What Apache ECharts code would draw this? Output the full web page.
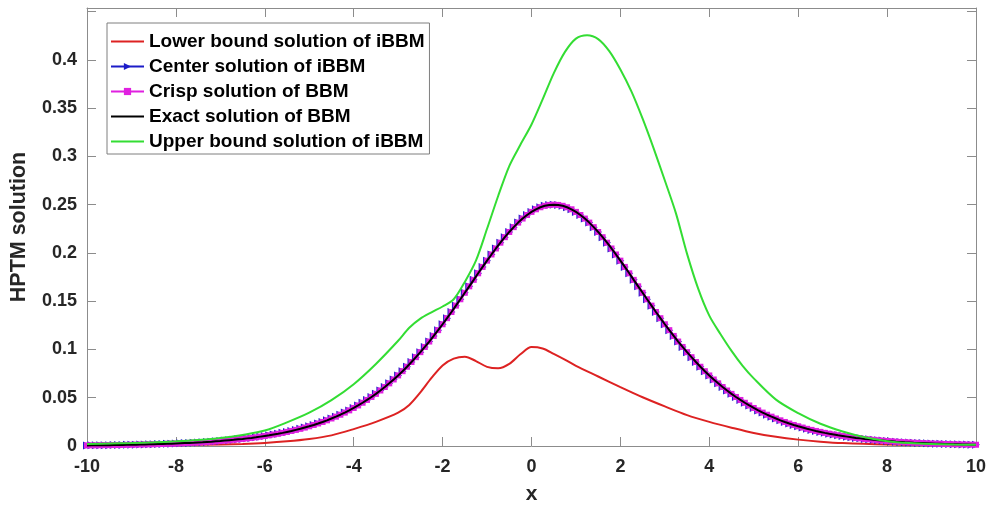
<!DOCTYPE html>
<html>
<head>
<meta charset="utf-8">
<script src="https://cdn.jsdelivr.net/npm/echarts@6/dist/echarts.min.js"></script>
<style>
  html, body { margin: 0; padding: 0; background: #fff; }
  #chart { width: 989px; height: 510px; }
</style>
</head>
<body>
<div id="chart"></div>
<script>
// Sample grid shared by the BBM curves: x = -10 .. 10, step 0.1
const gridStart = -10;
const gridStep = 0.1;

// BBM solitary wave (center / crisp / exact coincide), one value per grid point
const bbmValues = [
  0.0006,0.0007,0.0007,0.0008,0.0009,0.0009,0.0010,0.0010,0.0011,0.0012,
  0.0013,0.0014,0.0015,0.0016,0.0017,0.0018,0.0020,0.0021,0.0023,0.0024,
  0.0026,0.0028,0.0030,0.0032,0.0034,0.0037,0.0039,0.0042,0.0045,0.0049,
  0.0052,0.0056,0.0060,0.0064,0.0069,0.0073,0.0079,0.0084,0.0090,0.0097,
  0.0104,0.0111,0.0119,0.0127,0.0136,0.0146,0.0156,0.0167,0.0178,0.0191,
  0.0204,0.0218,0.0233,0.0249,0.0266,0.0285,0.0304,0.0324,0.0346,0.0369,
  0.0394,0.0420,0.0448,0.0477,0.0508,0.0540,0.0575,0.0611,0.0649,0.0689,
  0.0731,0.0775,0.0821,0.0870,0.0920,0.0972,0.1026,0.1082,0.1140,0.1200,
  0.1261,0.1324,0.1388,0.1454,0.1520,0.1587,0.1654,0.1721,0.1789,0.1855,
  0.1920,0.1984,0.2046,0.2106,0.2163,0.2217,0.2267,0.2314,0.2356,0.2393,
  0.2425,0.2452,0.2473,0.2488,0.2497,0.2500,0.2497,0.2488,0.2473,0.2452,
  0.2425,0.2393,0.2356,0.2314,0.2267,0.2217,0.2163,0.2106,0.2046,0.1984,
  0.1920,0.1855,0.1789,0.1721,0.1654,0.1587,0.1520,0.1454,0.1388,0.1324,
  0.1261,0.1200,0.1140,0.1082,0.1026,0.0972,0.0920,0.0870,0.0821,0.0775,
  0.0731,0.0689,0.0649,0.0611,0.0575,0.0540,0.0508,0.0477,0.0448,0.0420,
  0.0394,0.0369,0.0346,0.0324,0.0304,0.0285,0.0266,0.0249,0.0233,0.0218,
  0.0204,0.0191,0.0178,0.0167,0.0156,0.0146,0.0136,0.0127,0.0119,0.0111,
  0.0104,0.0097,0.0090,0.0084,0.0079,0.0073,0.0069,0.0064,0.0060,0.0056,
  0.0052,0.0049,0.0045,0.0042,0.0039,0.0037,0.0034,0.0032,0.0030,0.0028,
  0.0026,0.0024,0.0023,0.0021,0.0020,0.0018,0.0017,0.0016,0.0015,0.0014,
  0.0013
];

// Lower bound of the interval solution
const lowerX = [-10,-9,-8,-7,-6.5,-6,-5.5,-5,-4.5,-4,-3.5,-3,-2.75,-2.5,-2.25,-2,-1.75,-1.5,-1.25,-1,
  -0.75,-0.5,-0.25,0,0.25,0.5,0.75,1,1.5,2,2.5,3,3.5,4,4.5,5,5.5,6,6.5,7,8,9,10];
const lowerValues = [0.0003,0.0005,0.0009,0.0016,0.0022,0.0032,0.0048,0.0072,0.0110,0.0175,0.0250,0.0345,
  0.0425,0.0555,0.0705,0.0835,0.0905,0.0925,0.0880,0.0820,0.0805,0.0850,0.0950,0.1025,0.1010,0.0955,
  0.0895,0.0830,0.0720,0.0610,0.0505,0.0410,0.0320,0.0250,0.0190,0.0135,0.0095,0.0066,0.0045,0.0030,
  0.0015,0.0008,0.0004];

// Upper bound of the interval solution
const upperX = [-10,-9.5,-9,-8.5,-8,-7.5,-7,-6.5,-6,-5.5,-5,-4.5,-4,-3.5,-3,-2.75,-2.5,-2.25,-2,-1.75,
  -1.5,-1.25,-1,-0.75,-0.5,-0.25,0,0.25,0.5,0.75,1,1.25,1.5,1.75,2,2.25,2.5,2.75,3,3.25,3.5,3.75,4,
  4.25,4.5,4.75,5,5.5,6,6.5,7,7.5,8,8.5,9,9.5,10];
const upperValues = [0.0020,0.0025,0.0030,0.0038,0.0048,0.0062,0.0082,0.0115,0.0160,0.0245,0.0345,0.0475,
  0.0640,0.0850,0.1090,0.1225,0.1320,0.1385,0.1445,0.1520,0.1700,0.1920,0.2250,0.2590,0.2900,0.3120,
  0.3330,0.3590,0.3860,0.4080,0.4220,0.4255,0.4215,0.4090,0.3900,0.3670,0.3390,0.3080,0.2750,0.2410,
  0.1990,0.1630,0.1350,0.1160,0.0985,0.0830,0.0700,0.0480,0.0340,0.0230,0.0150,0.0090,0.0050,0.0030,
  0.0020,0.0015,0.0012];

const seriesNames = [
  'Lower bound solution of iBBM',
  'Center solution of iBBM',
  'Crisp solution of BBM',
  'Exact solution of BBM',
  'Upper bound solution of iBBM'
];

const xTicks = { min: -10, max: 10, step: 2 };
const yTicks = { min: 0, max: 0.4537, step: 0.05, lastLabel: 0.4 };

function pairs(xs, ys) { return ys.map((y, i) => [xs[i], y]); }
const bbmPairs = bbmValues.map((y, i) => [+(gridStart + i * gridStep).toFixed(1), y]);

const FONT = '"Liberation Sans", Arial, sans-serif';
const AXIS_GRAY = '#8c8c8c';
const TEXT = '#262626';
// plain line sample for legend entries that have no marker
const LINE_ICON = 'path://M0,0 L33,0 L33,2 L0,2 Z';

const chart = echarts.init(document.getElementById('chart'), null, { renderer: 'canvas' });

function axisCommon() {
  return {
    axisLine: { show: true, onZero: false, lineStyle: { color: AXIS_GRAY, width: 1 } },
    axisTick: { show: true, inside: true, length: 9, lineStyle: { color: AXIS_GRAY } },
    splitLine: { show: false }
  };
}

chart.setOption({
  animation: false,
  backgroundColor: '#fff',
  grid: { left: 86, right: 13, top: 8, bottom: 63, containLabel: false },
  legend: {
    orient: 'vertical',
    left: 107,
    top: 23,
    padding: [9, 5, 3, 3],
    itemGap: 6,
    itemWidth: 33,
    itemHeight: 9,
    backgroundColor: '#fff',
    borderColor: '#7f7f7f',
    borderWidth: 1,
    textStyle: { fontFamily: FONT, fontWeight: 'bold', fontSize: 19, color: '#000' },
    data: [
      { name: seriesNames[0], icon: LINE_ICON },
      { name: seriesNames[1] },
      { name: seriesNames[2] },
      { name: seriesNames[3], icon: LINE_ICON },
      { name: seriesNames[4], icon: LINE_ICON }
    ]
  },
  xAxis: [
    Object.assign({
      type: 'value', min: xTicks.min, max: xTicks.max, interval: xTicks.step,
      name: 'x', nameLocation: 'middle', nameGap: 38,
      nameTextStyle: { fontFamily: FONT, fontWeight: 'bold', fontSize: 21, color: TEXT },
      axisLabel: { fontFamily: FONT, fontWeight: 'bold', fontSize: 18, color: TEXT, margin: 12 }
    }, axisCommon()),
    Object.assign({
      type: 'value', position: 'top', min: xTicks.min, max: xTicks.max, interval: xTicks.step,
      axisLabel: { show: false }
    }, axisCommon())
  ],
  yAxis: [
    Object.assign({
      type: 'value', min: yTicks.min, max: yTicks.max, interval: yTicks.step,
      name: 'HPTM solution', nameLocation: 'middle', nameGap: 57,
      nameTextStyle: { fontFamily: FONT, fontWeight: 'bold', fontSize: 21.5, color: TEXT },
      axisLabel: {
        fontFamily: FONT, fontWeight: 'bold', fontSize: 18, color: TEXT, margin: 10,
        formatter: v => (v > yTicks.lastLabel + 1e-9 ? '' : String(+v.toFixed(2)))
      }
    }, axisCommon()),
    Object.assign({
      type: 'value', position: 'right', min: yTicks.min, max: yTicks.max, interval: yTicks.step,
      axisLabel: { show: false }
    }, axisCommon())
  ],
  series: [
    {
      name: seriesNames[0], type: 'line', data: pairs(lowerX, lowerValues), z: 2,
      smooth: 0.3, symbol: 'none',
      lineStyle: { color: '#dd2222', width: 2 }, itemStyle: { color: '#dd2222' }
    },
    {
      name: seriesNames[1], type: 'line', data: bbmPairs, z: 3,
      symbol: 'triangle', symbolRotate: -90, symbolSize: 8, showAllSymbol: true,
      lineStyle: { color: '#1c1cc8', width: 2 }, itemStyle: { color: '#1c1cc8' }
    },
    {
      name: seriesNames[2], type: 'line', data: bbmPairs, z: 4,
      symbol: 'rect', symbolSize: 6, showAllSymbol: true,
      lineStyle: { color: '#e020e0', width: 2 }, itemStyle: { color: '#e020e0' }
    },
    {
      name: seriesNames[3], type: 'line', data: bbmPairs, z: 5,
      symbol: 'none',
      lineStyle: { color: '#000000', width: 2 }, itemStyle: { color: '#000000' }
    },
    {
      name: seriesNames[4], type: 'line', data: pairs(upperX, upperValues), z: 6,
      smooth: 0.3, symbol: 'none',
      lineStyle: { color: '#33dd33', width: 2 }, itemStyle: { color: '#33dd33' }
    }
  ]
});
</script>
</body>
</html>
